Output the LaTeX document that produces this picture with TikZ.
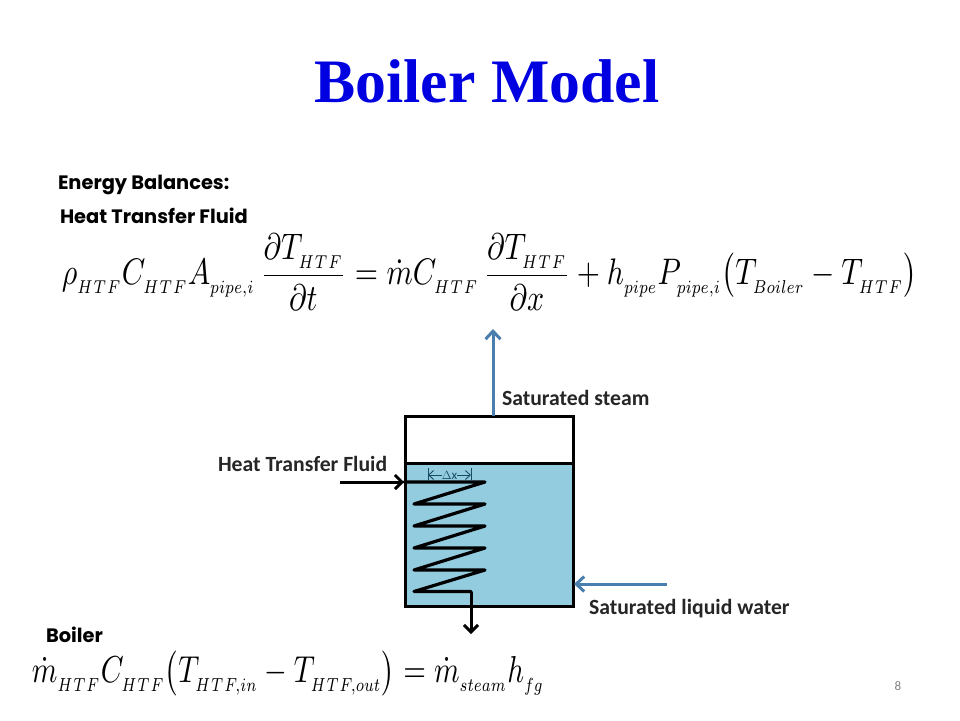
\documentclass[tikz,border=0pt]{standalone}
\usepackage{graphicx}
\usepackage{fontspec}
\setmainfont{Liberation Serif}
\newfontfamily\headfont{Poppins}
\newfontfamily\labelfont{Carlito}
\usetikzlibrary{arrows.meta}
\definecolor{titleblue}{RGB}{0,0,224}
\definecolor{steamblue}{RGB}{74,126,174}
\definecolor{waterblue}{RGB}{146,204,222}
\definecolor{dxblue}{RGB}{25,75,100}
\tikzset{
  x=1pt,y=-1pt,
  txt/.style={inner sep=0pt,outer sep=0pt,anchor=west,text=black},
  headtxt/.style={txt,font=\headfont\bfseries\fontsize{19.4}{22}\selectfont},
  labeltxt/.style={txt,font=\labelfont\bfseries\fontsize{21.7}{24}\selectfont,text=black!85},
  tankline/.style={draw=black,line width=3pt},
  coil/.style={draw=black,line width=3.2pt,line join=round,line cap=round},
  flowin/.style={draw=black,line width=3pt,-{Straight Barb[length=7pt,width=14pt]}},
  bluearrow/.style={draw=steamblue,line width=3pt,-{Straight Barb[length=8pt,width=15pt]}},
  dim/.style={draw=dxblue,line width=.9pt}
}
\newcommand{\subx}[1]{_{\raisebox{-1pt}{\scalebox{.72}{$\scriptstyle #1$}}}}
\newcommand{\htf}{\subx{H\mskip1mu T\mskip1mu F}}
\begin{document}
\begin{tikzpicture}
\useasboundingbox (0,0) rectangle (960,720);
\node[inner sep=0,font=\bfseries\color{titleblue}] (title) at (487,81) {\resizebox{345pt}{!}{\fontsize{60}{66}\selectfont Boiler Model}};
\node[headtxt] (h1) at (58,185) {Energy Balances:};
\node[headtxt] (h2) at (60,216) {Heat Transfer Fluid};
\node[headtxt] (h3) at (46,635) {Boiler};
\node[inner sep=0] (eq1) at (489.5,272) {\resizebox*{855pt}{76pt}{$\displaystyle \rho\htf C\htf A\subx{pipe,i}\,\frac{\partial T\htf}{\partial t}=\dot m C\htf\,\frac{\partial T\htf}{\partial x}+h\subx{pipe}P\subx{pipe,i}\big(T\subx{Boiler}-T\htf\big)$}};
\node[inner sep=0] (eq2) at (288,673) {\resizebox*{512pt}{45pt}{$\displaystyle \dot m\htf C\htf\big(T\subx{H\mskip1mu T\mskip1mu F,in}-T\subx{H\mskip1mu T\mskip1mu F,out}\big)=\dot m\subx{steam}h\subx{fg}$}};
% tank
\fill[waterblue] (405,463) rectangle (573,606);
\node[tankline,fill=none,inner sep=0,minimum width=168pt,minimum height=190pt] (tank) at (489,511) {};
\draw[tankline] (tank.west |- 0,463) coordinate (wl) -- (tank.east |- 0,463) coordinate (wr);
% coil
\coordinate (c0) at (404,482);
\coordinate (outc) at (471,591.5);
\draw[coil] (c0) -- (485,482) -- (414,504) -- (485,504) -- (414,526) -- (485,526) -- (414,548) -- (485,548) -- (414,570) -- (485,570) -- (414,591.5) -- (outc);
\coordinate (inflow) at (340,482);
\coordinate (outflow) at (471,634);
\draw[flowin] (inflow) -- (c0);
\draw[flowin] (outc) -- (outflow);
% dx
\coordinate (dxa) at (428,475);
\coordinate (dxb) at (471,475);
\draw[dim] (428,468) -- (428,481) (471,468) -- (471,481);
\node[inner sep=0,font=\labelfont\fontsize{13}{14}\selectfont,text=dxblue] (dx) at (449.5,475) {$\Delta$x};
\draw[dim,-{Straight Barb[length=5pt,width=9pt]}] (dx.west) -- (dxa);
\draw[dim,-{Straight Barb[length=5pt,width=9pt]}] (dx.east) -- (dxb);
% blue arrows
\coordinate (steamtop) at (493,329);
\coordinate (steambase) at (493,416);
\draw[bluearrow] (steambase) -- (steamtop);
\coordinate (waterin) at (667,584);
\coordinate (waterend) at (574,584);
\draw[bluearrow] (waterin) -- (waterend);
% labels
\node[labeltxt] (l1) at (502,398) {Saturated steam};
\node[labeltxt] (l2) at (218,464) {Heat Transfer Fluid};
\node[labeltxt] (l3) at (589,609) {Saturated liquid water};
\node[inner sep=0,font=\labelfont\fontsize{13}{15}\selectfont,text=black!50] (pg) at (898,686) {8};
\end{tikzpicture}
\end{document}
